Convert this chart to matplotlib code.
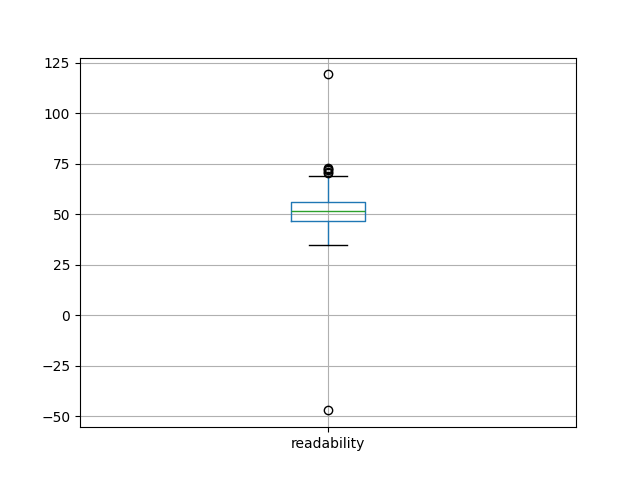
import matplotlib
matplotlib.use("Agg")
import matplotlib.pyplot as plt

# Box statistics
label = "readability"
q1 = 46.8
median = 51.9
q3 = 55.9
whisker_low = 35.0
whisker_high = 68.9
outliers = [-47.0, 70.6, 71.2, 71.8, 72.4, 73.0, 119.3]

stats = [{
    "label": label,
    "q1": q1,
    "med": median,
    "q3": q3,
    "whislo": whisker_low,
    "whishi": whisker_high,
    "fliers": outliers,
}]

fig, ax = plt.subplots(figsize=(6.4, 4.8), dpi=100)
ax.bxp(
    stats,
    boxprops=dict(color="C0"),
    whiskerprops=dict(color="C0"),
    medianprops=dict(color="C2"),
    capprops=dict(color="black"),
    flierprops=dict(marker="o", markeredgecolor="black", markerfacecolor="none"),
)
ax.grid(True)
ax.set_yticks([-50, -25, 0, 25, 50, 75, 100, 125])

fig.savefig("out.png")
